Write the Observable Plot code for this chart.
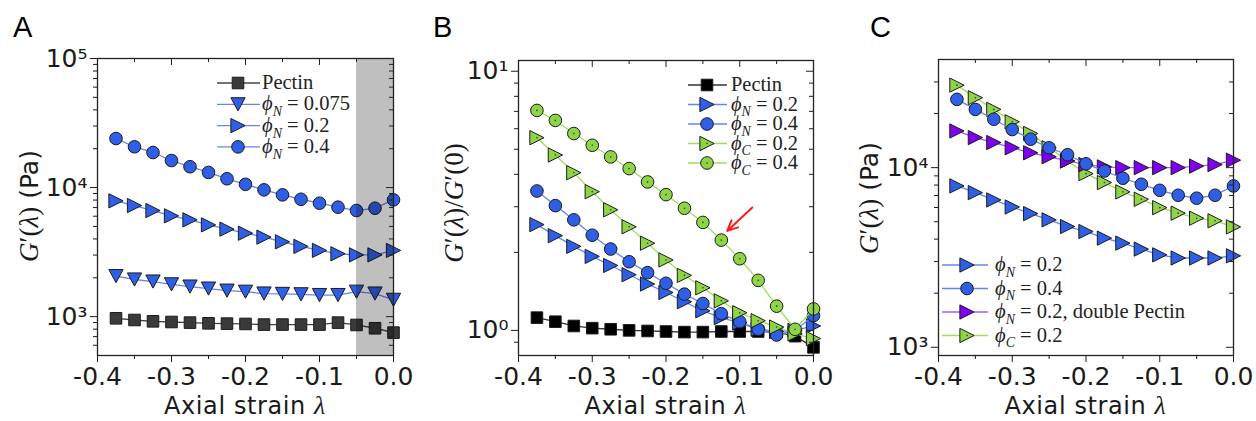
<!DOCTYPE html>
<html><head><meta charset="utf-8">
<script src="https://cdn.jsdelivr.net/npm/d3@7"></script>
<script src="https://cdn.jsdelivr.net/npm/@observablehq/plot@0.6"></script>
<style>
body{margin:0;background:#fff;}
#wrap{position:relative;width:1256px;height:421px;overflow:hidden;}
.panel{position:absolute;top:0;}
</style>
</head><body><div id="wrap"></div>
<script>
// ---------- data ----------
const strain = [-0.375,-0.35,-0.325,-0.3,-0.275,-0.25,-0.225,-0.2,-0.175,-0.15,-0.125,-0.1,-0.075,-0.05,-0.025,0];
const xMajor = [-0.4,-0.3,-0.2,-0.1,0];
const xMinor = [-0.35,-0.25,-0.15,-0.05];

// Panel A : G'(λ) (Pa)
const aPectin   = [971,942,920,909,899,888,883,878,868,868,868,868,899,862,813,752];
const aPhiN0075 = [2060,1940,1870,1780,1710,1650,1590,1560,1510,1500,1490,1470,1470,1560,1510,1350];
const aPhiN02   = [7890,7260,6640,6040,5620,5140,4760,4430,4130,3800,3500,3260,3070,3010,3010,3260];
const aPhiN04   = [24000,20700,18700,16200,14500,13100,11700,10600,9600,8780,8120,7570,7050,6640,6920,8030];
const aBand     = [-0.05, 0];
const aYMajor   = [1e3,1e4,1e5];
const aYMinor   = [600,700,800,900,2000,3000,4000,5000,6000,7000,8000,9000,20000,30000,40000,50000,60000,70000,80000,90000];

// Panel B : G'(λ)/G'(0)
const bPectin = [1.12,1.08,1.04,1.02,1.01,1.0,0.995,0.99,0.985,0.985,0.99,0.99,0.99,0.985,0.95,0.86];
const bPhiN02 = [2.56,2.32,2.11,1.93,1.78,1.64,1.51,1.40,1.29,1.19,1.12,1.07,1.01,0.99,1.0,1.04];
const bPhiN04 = [3.45,3.03,2.67,2.33,2.06,1.84,1.67,1.52,1.38,1.27,1.16,1.08,1.01,0.96,1.0,1.14];
const bPhiC02 = [5.54,4.75,4.06,3.43,2.92,2.51,2.17,1.87,1.63,1.46,1.30,1.17,1.09,1.03,0.97,0.93];
const bPhiC04 = [7.06,6.46,5.75,5.18,4.67,4.21,3.74,3.34,2.96,2.61,2.23,1.89,1.56,1.24,1.01,1.21];
const bArrow  = {x1:-0.083, y1:2.98, x2:-0.117, y2:2.42};
const bYMajor = [1,10];
const bYMinor = [0.9,2,3,4,5,6,7,8,9];

// Panel C : G'(λ) (Pa)
const cPhiN02    = [7910,7260,6610,6040,5550,5120,4700,4410,4050,3800,3520,3270,3140,3140,3140,3230];
const cPhiN04    = [24000,21100,18600,16300,14400,12900,11800,10500,9580,8730,8080,7480,7020,6760,7020,7910];
const cPhiN02dbl = [16000,14700,13800,12900,12100,11500,10900,10400,10100,10000,10000,10000,10000,10200,10400,11000];
const cPhiC02    = [28800,24500,21100,18000,15500,12900,10900,9260,8260,7330,6670,5990,5580,5230,5060,4680];
const cYMajor = [1e3,1e4];
const cYMinor = [2000,3000,4000,5000,6000,7000,8000,9000,20000,30000];

// ---------- styles ----------
const BLUE = "#2f5fe6", BLUE_L = "#6286ee";
const GREEN = "#8fd444", GREEN_L = "#9ede5e";
const PURP = "#7f00ee", PURP_L = "#a45cf5";
const OUT = "#1c1c1c";

const triRight = {draw(c, size){const r=Math.sqrt(size/Math.PI), a=r*1.17; c.moveTo(a,0); c.lineTo(-a,-a); c.lineTo(-a,a); c.closePath();}};
const triDown  = {draw(c, size){const r=Math.sqrt(size/Math.PI), a=r*1.17, h=r*1.08; c.moveTo(-a,-h); c.lineTo(a,-h); c.lineTo(0,h); c.closePath();}};
const square   = {draw(c, size){const r=Math.sqrt(size/Math.PI), s=r*0.95; c.rect(-s,-s,2*s,2*s);}};
const circle   = d3.symbolCircle;

const supMap = {"0":"⁰","1":"¹","2":"²","3":"³","4":"⁴","5":"⁵","-":"⁻"};
const powLabel = d => "10" + String(Math.round(Math.log10(d))).split("").map(c => supMap[c]).join("");

const SANS = "DejaVu Sans", SERIF = "Liberation Serif";
const TICKFS = 25;

function labelText(parent, x, y, parts, fs){
  const t = parent.append("text").attr("x",x).attr("y",y).attr("text-anchor","start").attr("font-family",SERIF).attr("font-size",fs).attr("fill","#222");
  const sub = fs*0.28;
  for (const p of parts){
    const ts = t.append("tspan").text(p.t);
    if (p.i) ts.attr("font-style","italic");
    if (p.sub) ts.attr("font-size", fs*0.68).attr("dy", sub);
    if (p.up) ts.attr("dy", -sub);
  }
  return t;
}

function buildPanel(cfg){
  const W = cfg.width, H = 421;
  const fw = W - cfg.ml - cfg.mr, fh = H - cfg.mt - cfg.mb;
  const marks = [];
  for (const s of cfg.series){
    const data = strain.map((x,i) => ({x, y: s.values[i]}));
    marks.push(Plot.line(data, {x:"x", y:"y", stroke:s.line, strokeWidth:1.3}));
    marks.push(Plot.dot(data, {x:"x", y:"y", symbol:s.sym, r:s.sym===circle?6.3:6.1, fill:s.fill, stroke:OUT, strokeWidth:1}));
    if (s.centerDot) marks.push(Plot.dot(data, {x:"x", y:"y", r:0.8, fill:"#333"}));
  }
  if (cfg.band) marks.push(Plot.rect([cfg.band], {x1: d=>d[0], x2: d=>d[1], fill:"black", fillOpacity:0.25}));
  if (cfg.arrow) marks.push(Plot.arrow([cfg.arrow], {x1:"x1", y1:"y1", x2:"x2", y2:"y2", stroke:"#ff1a1a", strokeWidth:2, headLength:9, headAngle:50}));
  marks.push(Plot.frame({stroke:"#222", strokeWidth:1.3}));
  marks.push(Plot.axisX({ticks:xMajor, tickSize:7, tickPadding:5, tickFormat:d=>d.toFixed(1), label:null, fontSize:TICKFS}));
  marks.push(Plot.axisX({ticks:xMinor, tickSize:4, tickFormat:()=>"", label:null}));
  marks.push(Plot.axisY({ticks:cfg.yMajor, tickSize:7, tickPadding:3, tickFormat:powLabel, label:null, fontSize:TICKFS}));
  marks.push(Plot.axisY({ticks:cfg.yMinor, tickSize:4, tickFormat:()=>"", label:null}));
  marks.push(Plot.tickX(xMajor, {x:d=>d, insetBottom:fh-7, stroke:"#222"}));
  marks.push(Plot.tickX(xMinor, {x:d=>d, insetBottom:fh-4, stroke:"#222"}));
  marks.push(Plot.tickY(cfg.yMajor, {y:d=>d, insetLeft:fw-7, stroke:"#222"}));
  marks.push(Plot.tickY(cfg.yMinor, {y:d=>d, insetLeft:fw-4, stroke:"#222"}));

  const svg = Plot.plot({
    width:W, height:H,
    marginLeft:cfg.ml, marginRight:cfg.mr, marginTop:cfg.mt, marginBottom:cfg.mb,
    x:{domain:[-0.4,0]},
    y:{type:"log", domain:cfg.yDomain},
    style:{fontFamily:SANS, fontSize:TICKFS+"px", color:"#1a1a1a", background:"transparent", overflow:"visible"},
    marks
  });
  const div = document.createElement("div");
  div.className = "panel";
  div.style.left = cfg.left + "px";
  div.appendChild(svg);
  document.getElementById("wrap").appendChild(div);

  const s = d3.select(svg);
  // panel letter
  s.append("text").attr("x",cfg.letterX).attr("y",37).attr("text-anchor","start").attr("font-family","Liberation Sans").attr("font-size",29).attr("fill","#000").text(cfg.letter);
  // x title
  const xt = s.append("text").attr("x",cfg.ml+fw/2).attr("y",414).attr("text-anchor","middle").attr("font-size",24).attr("letter-spacing","0.6px").attr("fill","#1a1a1a");
  xt.append("tspan").attr("font-family",SANS).text("Axial strain ");
  xt.append("tspan").attr("font-family",SERIF).attr("font-style","italic").attr("font-size",26).text("λ");
  // y title
  const yt = s.append("text").attr("transform",`translate(${cfg.ylx},${cfg.yly}) rotate(-90)`).attr("text-anchor","middle").attr("font-size",27).attr("fill","#1a1a1a");
  for (const p of cfg.yTitle){
    const t = yt.append("tspan").attr("font-family", p.sans?SANS:SERIF).text(p.t);
    if (p.i) t.attr("font-style","italic");
    if (p.fs) t.attr("font-size", p.fs);
  }
  // legend : font size fitted so that a reference label has the measured width
  const L = cfg.legend;
  const probe = labelText(s, 0, -100, L.fit.label, 20);
  const w20 = probe.node().getComputedTextLength();
  probe.remove();
  const fs = w20 > 0 ? 20 * L.fit.width / w20 : 20;
  const g = s.append("g").attr("text-anchor","start");
  L.entries.forEach((e,k) => {
    const y = L.y0 + k*L.dy;
    g.append("line").attr("x1",L.x1).attr("x2",L.x2).attr("y1",y).attr("y2",y).attr("stroke",e.line).attr("stroke-width",1.3);
    const r = e.sym===circle?6.3:6.1;
    g.append("path").attr("d", d3.symbol(e.sym, Math.PI*r*r)()).attr("transform",`translate(${L.xm},${y})`).attr("fill",e.fill).attr("stroke",OUT).attr("stroke-width",1);
    if (e.centerDot) g.append("circle").attr("cx",L.xm).attr("cy",y).attr("r",0.8).attr("fill","#333");
    labelText(g, L.xt, y + fs*0.3, e.label, fs);
  });
}

const phi = (sub, val) => [{t:"ϕ", i:true},{t:sub, i:true, sub:true},{t:" = "+val, up:true}];
const yTitleG = [{t:"G", i:true},{t:"′("},{t:"λ", i:true},{t:")"},{t:" (Pa)", sans:true, fs:25}];

// Panel A
buildPanel({
  letter:"A", letterX:13, left:0, width:420, ml:97, mr:27, mt:58, mb:66,
  yDomain:[500,1e5], yMajor:aYMajor, yMinor:aYMinor, band:aBand,
  ylx:38, yly:206, yTitle:yTitleG,
  series:[
    {values:aPectin, sym:square, fill:"#3a3a3a", line:"#444"},
    {values:aPhiN0075, sym:triDown, fill:BLUE, line:BLUE_L},
    {values:aPhiN02, sym:triRight, fill:BLUE, line:BLUE_L},
    {values:aPhiN04, sym:circle, fill:BLUE, line:BLUE_L}
  ],
  legend:{x1:217, x2:260, xm:238, xt:262, y0:83, dy:21.3, fit:{label:phi("N","0.075"), width:88}, entries:[
    {sym:square, fill:"#3a3a3a", line:"#444", label:[{t:"Pectin"}]},
    {sym:triDown, fill:BLUE, line:BLUE_L, label:phi("N","0.075")},
    {sym:triRight, fill:BLUE, line:BLUE_L, label:phi("N","0.2")},
    {sym:circle, fill:BLUE, line:BLUE_L, label:phi("N","0.4")}
  ]}
});

// Panel B
buildPanel({
  letter:"B", letterX:13, left:420, width:420, ml:98, mr:27, mt:60, mb:66,
  yDomain:[0.8,11], yMajor:bYMajor, yMinor:bYMinor, arrow:bArrow,
  ylx:43, yly:203, yTitle:[{t:"G", i:true},{t:"′("},{t:"λ", i:true},{t:")/"},{t:"G", i:true},{t:"′(0)"}],
  series:[
    {values:bPectin, sym:square, fill:"#000", line:"#333"},
    {values:bPhiN02, sym:triRight, fill:BLUE, line:BLUE_L},
    {values:bPhiN04, sym:circle, fill:BLUE, line:BLUE_L},
    {values:bPhiC02, sym:triRight, fill:GREEN, line:GREEN_L, centerDot:true},
    {values:bPhiC04, sym:circle, fill:GREEN, line:GREEN_L, centerDot:true}
  ],
  legend:{x1:268, x2:307, xm:287, xt:311, y0:85, dy:19.5, fit:{label:[{t:"Pectin"}], width:51}, entries:[
    {sym:square, fill:"#000", line:"#333", label:[{t:"Pectin"}]},
    {sym:triRight, fill:BLUE, line:BLUE_L, label:phi("N","0.2")},
    {sym:circle, fill:BLUE, line:BLUE_L, label:phi("N","0.4")},
    {sym:triRight, fill:GREEN, line:GREEN_L, centerDot:true, label:phi("C","0.2")},
    {sym:circle, fill:GREEN, line:GREEN_L, centerDot:true, label:phi("C","0.4")}
  ]}
});

// Panel C
buildPanel({
  letter:"C", letterX:30, left:840, width:416, ml:98, mr:23, mt:59, mb:66,
  yDomain:[900,40000], yMajor:cYMajor, yMinor:cYMinor,
  ylx:38, yly:198, yTitle:yTitleG,
  series:[
    {values:cPhiN02, sym:triRight, fill:BLUE, line:BLUE_L},
    {values:cPhiC02, sym:triRight, fill:GREEN, line:GREEN_L, centerDot:true},
    {values:cPhiN02dbl, sym:triRight, fill:PURP, line:PURP_L},
    {values:cPhiN04, sym:circle, fill:BLUE, line:BLUE_L}
  ],
  legend:{x1:102, x2:148, xm:127, xt:155, y0:265, dy:23.5, fit:{label:phi("N","0.2, double Pectin"), width:190}, entries:[
    {sym:triRight, fill:BLUE, line:BLUE_L, label:phi("N","0.2")},
    {sym:circle, fill:BLUE, line:BLUE_L, label:phi("N","0.4")},
    {sym:triRight, fill:PURP, line:PURP_L, label:phi("N","0.2, double Pectin")},
    {sym:triRight, fill:GREEN, line:GREEN_L, centerDot:true, label:phi("C","0.2")}
  ]}
});
</script>
</body></html>
